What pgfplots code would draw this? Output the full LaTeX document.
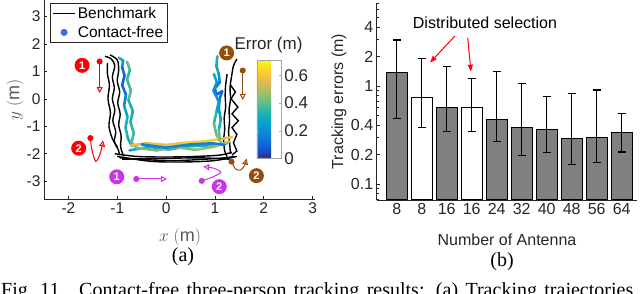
\documentclass[border=0pt]{standalone}
\usepackage{pgfplots}
\usepackage{pgfplotstable}
\pgfplotsset{compat=1.18}
\usepackage{fontspec}
\setmainfont{Liberation Sans}
\newfontfamily\timesfont{Liberation Serif}
\usetikzlibrary{arrows.meta}
\definecolor{axgray}{RGB}{38,38,38}
\definecolor{barfill}{RGB}{128,128,128}
\definecolor{pred}{RGB}{255,0,0}
\definecolor{ppur}{RGB}{204,51,230}
\definecolor{pbrown}{RGB}{153,76,10}
\definecolor{cfblue}{RGB}{65,105,240}
\pgfplotsset{colormap={parula}{rgb255=(53,42,135) rgb255=(15,92,221) rgb255=(18,125,216) rgb255=(7,156,207) rgb255=(21,177,180) rgb255=(89,189,140) rgb255=(165,190,107) rgb255=(225,185,82) rgb255=(252,206,46) rgb255=(249,251,14)}}

\pgfplotstableread{
x y ep em
1 1.37 1.58 0.90
3 0.597 0.973 0.25
5 0.45 0.97 0.18
6 0.373 0.687 0.177
7 0.364 0.414 0.155
8 0.29 0.54 0.133
9 0.297 0.613 0.132
10 0.334 0.192 0.122
}\graybars
\pgfplotstableread{
x y ep em
2 0.755 1.135 0.379
4 0.605 0.585 0.265
}\whitebars

\begin{document}
\begin{tikzpicture}[x=1pt,y=1pt]
\useasboundingbox (0,0) rectangle (640,294);

% ---------------- left panel ----------------
\begin{axis}[
  at={(44pt,95pt)}, anchor=south west, scale only axis,
  width=271pt, height=199pt,
  xmin=-2.5, xmax=3.05, ymin=-3.65, ymax=3.6,
  axis lines*=left,
  axis line style={axgray, line width=0.6pt},
  tick align=inside, major tick length=3pt,
  tick style={axgray, line width=0.6pt},
  xtick={-2,-1,0,1,2,3}, ytick={-3,-2,-1,0,1,2,3},
  /pgf/number format/assume math mode=true,
  ticklabel style={font=\fontsize{15.5}{15.5}\selectfont, text=axgray},
  xlabel={$x\ (\mathrm{m})$}, ylabel={$y\ (\mathrm{m})$},
  label style={font=\fontsize{18}{18}\selectfont, text=black!65},
  xlabel style={at={(axis description cs:0.502,-0.191)}, anchor=center},
  ylabel style={at={(axis description cs:-0.107,0.497)}, anchor=center},
  clip=false,
  colormap name=parula, point meta min=0, point meta max=0.71,
  colorbar,
  colorbar style={
    at={(parent axis.south west)}, anchor=south west,
    xshift=204.3pt, yshift=40.7pt,
    width=24pt, height=98.3pt, scale only axis,
    ytick={0,0.2,0.4,0.6},
    yticklabels={0,0.2,0.4,0.6},
    yticklabel style={font=\fontsize{17}{17}\selectfont, text=axgray},
    axis line style={black!35},
    major tick length=2pt, tick style={black!35},
  },
  legend style={at={(0.022,0.985)}, anchor=north west,
    font=\fontsize{15.5}{15.5}\selectfont, draw=axgray, line width=0.6pt,
    inner xsep=2pt, inner ysep=2pt, row sep=2pt},
  legend cell align=left,
  legend image code/.code={\draw[mark repeat=2,mark phase=2,#1] plot coordinates {(0pt,0pt) (11pt,0pt) (22pt,0pt)};},
]
\addlegendimage{black, line width=1.6pt}
\addlegendentry{Benchmark}
\addlegendimage{only marks, mark=*, mark size=3.2pt, color=cfblue}
\addlegendentry{Contact-free}

% benchmark trajectories
\addplot[black, line width=1.4pt, smooth, forget plot] coordinates {
(-1.25,1.55) (-1.12,1.45) (-1.05,1.2) (-1.1,0.8) (-1.06,0.4) (-1.1,0.0) (-1.05,-0.4) (-1.09,-0.8) (-1.03,-1.2) (-1.06,-1.55) (-0.98,-1.85) (-0.95,-2.05)};
\addplot[black, line width=1.4pt, smooth, forget plot] coordinates {
(-1.15,1.6) (-1.0,1.42) (-0.97,1.05) (-1.0,0.65) (-0.95,0.25) (-0.99,-0.15) (-0.94,-0.55) (-0.97,-0.95) (-0.92,-1.35) (-0.93,-1.75) (-0.87,-2.1)};
\addplot[black, line width=1.4pt, smooth, forget plot] coordinates {
(-1.2,1.3) (-1.2,0.9) (-1.16,0.5) (-1.19,0.0) (-1.14,-0.5) (-1.17,-1.0) (-1.1,-1.45) (-1.0,-1.75)};
\addplot[black, line width=1.4pt, smooth, forget plot] coordinates {
(-1.05,-2.0) (-0.6,-2.1) (0,-2.12) (0.6,-2.1) (1.1,-2.05) (1.35,-1.95)};
\addplot[black, line width=1.4pt, smooth, forget plot] coordinates {
(-0.95,-2.15) (-0.4,-2.22) (0.2,-2.25) (0.8,-2.2) (1.2,-2.15) (1.4,-2.1)};
\addplot[black, line width=1.4pt, smooth, forget plot] coordinates {
(-1.0,-2.1) (-0.3,-2.28) (0.4,-2.3) (1.0,-2.25) (1.45,-2.1)};
\addplot[black, line width=1.4pt, smooth, forget plot] coordinates {
(-0.9,-2.2) (0,-2.17) (0.7,-2.15) (1.3,-2.2)};
\addplot[black, line width=1.4pt, smooth, forget plot] coordinates {
(1.45,1.45) (1.38,1.2) (1.34,0.8) (1.31,0.4) (1.32,0.0) (1.29,-0.4) (1.3,-0.8) (1.28,-1.2) (1.3,-1.6) (1.32,-2.0)};
\addplot[black, line width=1.4pt, smooth, forget plot] coordinates {
(1.25,0.9) (1.22,0.5) (1.21,0.1) (1.22,-0.3) (1.19,-0.7) (1.2,-1.1) (1.18,-1.5) (1.2,-1.9) (1.25,-2.1)};
\addplot[black, line width=1.4pt, forget plot] coordinates {
(1.32,0.5) (1.42,0.25) (1.33,0.0) (1.47,-0.3) (1.35,-0.55) (1.48,-0.8) (1.35,-1.05) (1.45,-1.3) (1.38,-1.6) (1.45,-1.9) (1.35,-2.05)};

% contact-free estimates, coloured by error
\addplot[mesh, line width=2.6pt, line cap=round, line join=round, point meta=explicit, forget plot] table[meta=c] {
x y c
-0.97 1.50 0.35
-0.88 1.40 0.30
-0.90 1.15 0.15
-0.85 0.85 0.08
-0.90 0.50 0.10
-0.82 0.15 0.12
-0.86 -0.25 0.20
-0.79 -0.65 0.30
-0.83 -1.05 0.35
-0.78 -1.45 0.30
-0.70 -1.72 0.25
};
\addplot[mesh, line width=2.6pt, line cap=round, line join=round, point meta=explicit, forget plot] table[meta=c] {
x y c
-0.80 1.35 0.42
-0.74 1.05 0.38
-0.80 0.70 0.30
-0.72 0.30 0.42
-0.77 -0.05 0.35
-0.68 -0.45 0.30
-0.73 -0.85 0.28
-0.66 -1.25 0.40
-0.71 -1.60 0.35
-0.60 -1.78 0.42
};
\addplot[mesh, line width=2.6pt, line cap=round, line join=round, point meta=explicit, forget plot] table[meta=c] {
x y c
-0.72 -1.70 0.55
-0.40 -1.62 0.60
0.00 -1.68 0.55
0.40 -1.60 0.62
0.80 -1.55 0.65
1.10 -1.47 0.60
1.35 -1.40 0.55
};
\addplot[mesh, line width=2.6pt, line cap=round, line join=round, point meta=explicit, forget plot] table[meta=c] {
x y c
-0.75 -1.88 0.25
-0.35 -1.75 0.30
0.05 -1.85 0.28
0.45 -1.73 0.32
0.85 -1.70 0.30
1.25 -1.62 0.35
};
\addplot[mesh, line width=2.6pt, line cap=round, line join=round, point meta=explicit, forget plot] table[meta=c] {
x y c
-0.62 -1.78 0.45
-0.20 -1.88 0.40
0.20 -1.76 0.45
0.60 -1.86 0.42
1.00 -1.74 0.48
1.30 -1.55 0.50
};
\addplot[mesh, line width=2.6pt, line cap=round, line join=round, point meta=explicit, forget plot] table[meta=c] {
x y c
-0.50 -1.66 0.15
0.00 -1.78 0.20
0.50 -1.66 0.15
0.95 -1.62 0.20
1.20 -1.68 0.12
};
\addplot[mesh, line width=2.6pt, line cap=round, line join=round, point meta=explicit, forget plot] table[meta=c] {
x y c
1.05 1.55 0.35
1.03 1.20 0.30
1.08 0.90 0.25
1.10 0.60 0.15
1.00 0.38 0.10
1.03 0.15 0.08
1.15 0.28 0.10
1.10 0.02 0.12
1.08 -0.35 0.20
1.12 -0.75 0.28
1.08 -1.15 0.35
1.10 -1.50 0.45
};
\addplot[mesh, line width=2.6pt, line cap=round, line join=round, point meta=explicit, forget plot] table[meta=c] {
x y c
0.98 0.90 0.30
1.04 0.60 0.25
0.97 0.30 0.18
1.08 -0.10 0.22
1.03 -0.50 0.30
0.98 -0.90 0.38
1.03 -1.30 0.42
1.12 -1.58 0.48
};

% person annotations
\addplot[pred, line width=1pt, mark=*, mark indices={1}, mark size=2.5pt, -{Triangle[open,length=6pt,width=6pt]}, forget plot] coordinates {(-1.36,1.36) (-1.36,0.21)};
\addplot[pred, line width=1pt, smooth, mark=*, mark indices={1}, mark size=2.5pt, -{Triangle[open,length=6pt,width=6pt]}, forget plot] coordinates {(-1.55,-1.43) (-1.52,-1.85) (-1.44,-2.28) (-1.35,-2.0) (-1.29,-1.52)};
\addplot[ppur, line width=1pt, mark=*, mark indices={1}, mark size=2.5pt, -{Triangle[open,length=6pt,width=6pt]}, forget plot] coordinates {(-0.61,-2.92) (0.02,-2.92)};
\addplot[ppur, line width=1pt, smooth, mark=*, mark indices={1}, mark size=2.5pt, -{Triangle[open,length=6pt,width=6pt]}, forget plot] coordinates {(0.73,-2.99) (0.95,-2.85) (1.12,-2.68) (0.98,-2.53) (0.76,-2.47)};
\addplot[pbrown, line width=1pt, mark=*, mark indices={1}, mark size=2.5pt, -{Triangle[open,length=6pt,width=6pt]}, forget plot] coordinates {(1.57,1.03) (1.57,-0.04)};
\addplot[pbrown, line width=1pt, smooth, mark=*, mark indices={1}, mark size=2.5pt, -{Triangle[open,length=6pt,width=6pt]}, forget plot] coordinates {(1.34,-2.29) (1.42,-2.55) (1.52,-2.6) (1.6,-2.45) (1.65,-2.18)};

\tikzset{pnum/.style={circle, fill=#1, text=white, inner sep=0pt, minimum size=15pt, font=\bfseries\fontsize{11}{11}\selectfont}}
\node[pnum=pred] at (axis cs:-1.72,1.22) {1};
\node[pnum=pred] at (axis cs:-1.79,-1.80) {2};
\node[pnum=ppur] at (axis cs:-1.01,-2.84) {1};
\node[pnum=ppur] at (axis cs:1.09,-3.20) {2};
\node[pnum=pbrown] at (axis cs:1.24,1.67) {1};
\node[pnum=pbrown] at (axis cs:1.85,-2.80) {2};
\end{axis}

\node[anchor=base, font=\fontsize{17}{17}\selectfont, text=axgray] at (268.5pt,244pt) {Error (m)};

% ---------------- right panel ----------------
\begin{axis}[
  at={(376.7pt,94pt)}, anchor=south west, scale only axis,
  width=260pt, height=197pt,
  xmin=0.2, xmax=10.6,
  ymode=log, ymin=0.0687, ymax=7.03, log origin=infty,
  axis lines*=left,
  axis line style={axgray, line width=0.6pt},
  tick align=inside, major tick length=3.5pt, minor tick length=2pt,
  tick style={axgray, line width=0.6pt},
  xtick={1,2,3,4,5,6,7,8,9,10},
  xticklabels={8,8,16,16,24,32,40,48,56,64},
  ytick={0.1,0.2,0.4,1,2,4},
  yticklabels={0.1,0.2,0.4,1,2,4},
  minor ytick={0.07,0.08,0.09,0.3,0.5,0.6,0.7,0.8,0.9,3,5,6,7},
  ticklabel style={font=\fontsize{16}{16}\selectfont, text=axgray},
  xlabel={Number of Antenna}, ylabel={Tracking errors (m)},
  label style={font=\fontsize{16}{16}\selectfont, text=axgray},
  xlabel style={at={(axis description cs:0.501,-0.203)}, anchor=center},
  ylabel style={at={(axis description cs:-0.145,0.5)}, anchor=center},
  clip=false,
]
\addplot[ybar, bar width=0.84, bar shift=0pt, fill=barfill, draw=black, line width=1pt,
  error bars/.cd, y dir=both, y explicit,
  error bar style={black, line width=1.1pt},
  error mark options={rotate=90, black, mark size=4pt, line width=1.1pt}]
  table[x=x, y=y, y error plus=ep, y error minus=em] {\graybars};
\addplot[ybar, bar width=0.84, bar shift=0pt, fill=white, draw=black, line width=1pt,
  error bars/.cd, y dir=both, y explicit,
  error bar style={black, line width=1.1pt},
  error mark options={rotate=90, black, mark size=4pt, line width=1.1pt}]
  table[x=x, y=y, y error plus=ep, y error minus=em] {\whitebars};
\draw[red, line width=1pt, -{Triangle[length=7pt,width=5pt]}] (axis cs:3.33,3.24) -- (axis cs:2.33,1.73);
\draw[red, line width=1pt, -{Triangle[length=7pt,width=5pt]}] (axis cs:3.84,3.11) -- (axis cs:3.97,1.40);
\node[font=\fontsize{16}{16}\selectfont, text=black] at (axis cs:4.53,4.39) {Distributed selection};
\end{axis}

\node[font=\timesfont\fontsize{20}{20}\selectfont] at (183pt,37pt) {(a)};
\node[font=\timesfont\fontsize{20}{20}\selectfont] at (502pt,32pt) {(b)};
\node[anchor=base west, inner sep=0pt, font=\timesfont\fontsize{20}{20}\selectfont] at (1pt,-2.2pt) {\makebox[632pt][s]{Fig.~11.\ \ Contact-free three-person tracking results: (a) Tracking trajectories}};
\end{tikzpicture}
\end{document}
